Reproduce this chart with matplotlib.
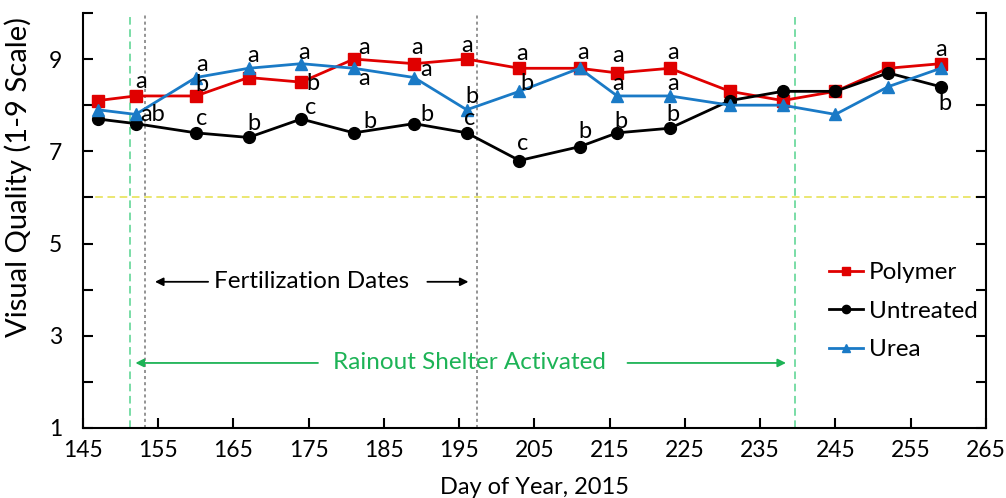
import numpy as np
import matplotlib
matplotlib.use("Agg")
import matplotlib.pyplot as plt

plt.rcParams['font.family'] = ['Lato', 'DejaVu Sans']

# sampling days
days = [147, 152, 160, 167, 174, 181, 189, 196, 203, 211, 216, 223, 231, 238, 245, 252, 259]

polymer = [8.1, 8.2, 8.2, 8.6, 8.5, 9.0, 8.9, 9.0, 8.8, 8.8, 8.7, 8.8, 8.3, 8.1, 8.3, 8.8, 8.9]
untreated = [7.7, 7.6, 7.4, 7.3, 7.7, 7.4, 7.6, 7.4, 6.8, 7.1, 7.4, 7.5, 8.1, 8.3, 8.3, 8.7, 8.4]
urea = [7.9, 7.8, 8.6, 8.8, 8.9, 8.8, 8.6, 7.9, 8.3, 8.8, 8.2, 8.2, 8.0, 8.0, 7.8, 8.4, 8.8]

# significance letters: (text, day, baseline value)
letters = [
    ("a", 152.7, 8.37), ("ab", 154.3, 7.66),
    ("a", 160.8, 8.74), ("b", 160.8, 8.31), ("c", 160.8, 7.57),
    ("a", 167.6, 8.94), ("b", 167.7, 7.46),
    ("a", 174.4, 9.0), ("b", 175.6, 8.33), ("c", 175.2, 7.80),
    ("a", 182.3, 9.12), ("a", 182.3, 8.44), ("b", 183.1, 7.50),
    ("a", 189.4, 9.10), ("a", 190.6, 8.63), ("b", 190.7, 7.66),
    ("a", 196.0, 9.16), ("b", 196.7, 8.04), ("c", 196.4, 7.57),
    ("a", 203.3, 8.98), ("b", 204.0, 8.33), ("c", 203.4, 7.03),
    ("a", 211.5, 9.0), ("b", 211.7, 7.28),
    ("a", 216.1, 8.93), ("a", 216.1, 8.33), ("b", 216.5, 7.50),
    ("a", 223.4, 9.0), ("a", 223.4, 8.33), ("b", 223.4, 7.66),
    ("a", 259.0, 9.07), ("b", 259.6, 7.89),
]

red = "#E00000"
blue = "#1A7AC6"
green = "#1DB356"

fig = plt.figure(figsize=(10.06, 4.98), dpi=100)
ax = fig.add_axes([0.0825, 0.1406, 0.8975, 0.8334])

# reference lines
ax.axhline(6, color="#E6E04A", lw=1.1, ls=(0, (5, 3)), zorder=1)
for d in [151.2, 239.6]:
    ax.axvline(d, color="#55D38E", lw=1.1, ls=(0, (5, 3)), zorder=1)
for d in [153.2, 197.4]:
    ax.axvline(d, color="#777777", lw=1.1, ls=(0, (2, 2)), zorder=1)

ax.plot(days, polymer, color=red, marker="s", ms=8.5, lw=2, label="Polymer", zorder=3)
ax.plot(days, untreated, color="black", marker="o", ms=8.5, lw=2, label="Untreated", zorder=3)
ax.plot(days, urea, color=blue, marker="^", ms=8.5, lw=2, label="Urea", zorder=4)

for txt, x, y in letters:
    ax.text(x, y, txt, fontsize=17, ha="center", va="baseline", zorder=5)

# annotations with arrows
ax.text(175.4, 4.17, "Fertilization Dates", fontsize=17.5, ha="center", va="center")
ax.annotate("", xy=(154.2, 4.17), xytext=(162.0, 4.17),
            arrowprops=dict(arrowstyle="-|>", color="black", lw=1.3, mutation_scale=12))
ax.annotate("", xy=(196.6, 4.17), xytext=(190.4, 4.17),
            arrowprops=dict(arrowstyle="-|>", color="black", lw=1.3, mutation_scale=12))

ax.text(196.4, 2.41, "Rainout Shelter Activated", fontsize=17.5, ha="center", va="center", color=green)
ax.annotate("", xy=(151.6, 2.41), xytext=(176.6, 2.41),
            arrowprops=dict(arrowstyle="-|>", color=green, lw=1.3, mutation_scale=12))
ax.annotate("", xy=(238.8, 2.41), xytext=(217.0, 2.41),
            arrowprops=dict(arrowstyle="-|>", color=green, lw=1.3, mutation_scale=12))

ax.set_xlim(145, 265)
ax.set_ylim(1, 10)
ax.set_xticks(np.arange(145, 266, 10))
yt = np.arange(1, 11)
ax.set_yticks(yt)
ax.set_yticklabels([str(v) if v % 2 == 1 and v < 10 else "" for v in yt])
ax.tick_params(direction="in", length=7, width=1.5, labelsize=16.5)
ax.tick_params(axis="x", pad=9)
ax.tick_params(axis="y", right=True, pad=15)
ax.spines["top"].set_visible(False)
for s in ["left", "right", "bottom"]:
    ax.spines[s].set_linewidth(1.5)

ax.set_xlabel("Day of Year, 2015", fontsize=17, labelpad=11)
ax.set_ylabel("Visual Quality (1-9 Scale)", fontsize=21)
ax.yaxis.set_label_coords(-0.056, 0.605)

ax.legend(loc="center left", bbox_to_anchor=(0.826, 0.281), frameon=False, fontsize=17.5,
          handlelength=1.4, labelspacing=0.72, handletextpad=0.25, borderaxespad=0,
          borderpad=0, markerscale=0.7)

fig.savefig("out.png", dpi=100)
